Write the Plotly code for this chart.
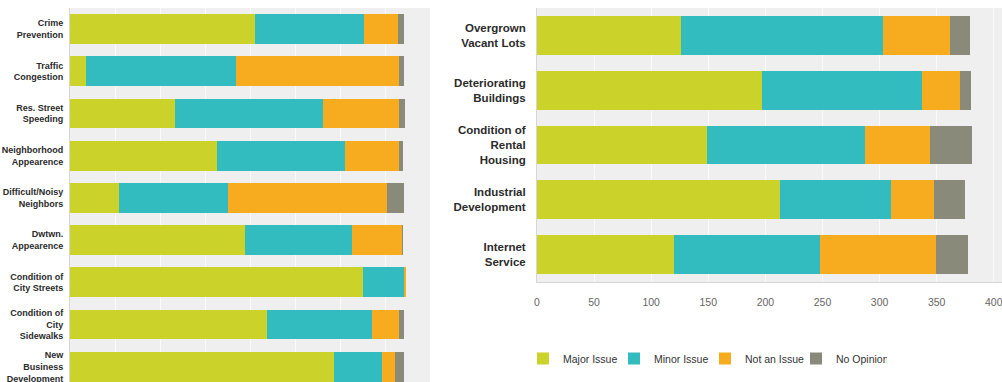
import plotly.graph_objects as go

# ---------------- data ----------------
series_names = ["Major Issue", "Minor Issue", "Not an Issue", "No Opinion"]
series_colors = ["#cbd32a", "#33bcbf", "#f6ac1e", "#8a8a7a"]

left_categories = [
    "Crime<br>Prevention",
    "Traffic<br>Congestion",
    "Res. Street<br>Speeding",
    "Neighborhood<br>Appearence",
    "Difficult/Noisy<br>Neighbors",
    "Dwtwn.<br>Appearence",
    "Condition of<br>City Streets",
    "Condition of<br>City<br>Sidewalks",
    "New<br>Business<br>Development",
]
left_major = [205, 18, 117, 163, 54, 194, 326, 219, 293]
left_minor = [122, 166, 164, 143, 122, 119, 46, 117, 54]
left_not = [37, 182, 85, 60, 176, 56, 1, 30, 14]
left_noop = [7, 5, 6, 4, 19, 1, 0, 5, 10]

right_categories = [
    "Overgrown<br>Vacant Lots",
    "Deteriorating<br>Buildings",
    "Condition of<br>Rental<br>Housing",
    "Industrial<br>Development",
    "Internet<br>Service",
]
right_major = [126, 197, 149, 213, 120]
right_minor = [177, 140, 138, 97, 128]
right_not = [59, 33, 57, 38, 101]
right_noop = [17, 10, 37, 27, 28]

x_ticks = [0, 50, 100, 150, 200, 250, 300, 350, 400]

left_values = [left_major, left_minor, left_not, left_noop]
right_values = [right_major, right_minor, right_not, right_noop]

# ---------------- figure ----------------
W, H = 1002, 382
FONT = "Liberation Sans, Arial, Helvetica, sans-serif"

fig = go.Figure()
for name, color, lv, rv in zip(series_names, series_colors, left_values, right_values):
    fig.add_trace(go.Bar(
        y=left_categories, x=lv, orientation="h", name=name,
        marker=dict(color=color, line=dict(width=0)),
        xaxis="x", yaxis="y", showlegend=False, legendgroup=name,
        hoverinfo="x+name",
    ))
    fig.add_trace(go.Bar(
        y=right_categories, x=rv, orientation="h", name=name,
        marker=dict(color=color, line=dict(width=0)),
        xaxis="x2", yaxis="y2", showlegend=True, legendgroup=name,
        hoverinfo="x+name",
    ))

plot_top = 8
plot_h = H - plot_top
left_slot = 42.2
left_bottom_idx = -0.5 + plot_h / left_slot
right_bottom_px = 282
right_dom_bottom = (H - right_bottom_px) / plot_h

grid_col = "#fafafa"
bg_col = "#efefef"
line_col = "#d6d6d6"

fig.update_layout(
    width=W, height=H,
    margin=dict(l=0, r=0, t=plot_top, b=0, pad=0, autoexpand=False),
    paper_bgcolor="white",
    plot_bgcolor=bg_col,
    barmode="stack",
    bargap=0.29,
    font=dict(family=FONT, color="#333333"),
    xaxis=dict(
        domain=[70 / W, 430 / W], range=[0, 400], anchor="y",
        tickvals=x_ticks, showticklabels=False, ticks="",
        showgrid=True, gridcolor=grid_col, gridwidth=1,
        zeroline=False, showline=False, fixedrange=True, automargin=False,
    ),
    yaxis=dict(
        domain=[0, 1], anchor="x", type="category",
        categoryorder="array", categoryarray=left_categories,
        range=[left_bottom_idx, -0.5],
        showgrid=False, zeroline=False,
        showline=True, linecolor=line_col, linewidth=1,
        ticks="", ticklabelstandoff=4, automargin=False,
        tickfont=dict(family=FONT, size=9, color="#2b2b2b", weight="bold"),
        fixedrange=True,
    ),
    xaxis2=dict(
        domain=[537 / W, 1.0], range=[0, (W - 537) / 1.142], anchor="y2",
        tickvals=x_ticks, ticktext=[str(v) for v in x_ticks],
        ticks="", ticklabelstandoff=10, automargin=False,
        ticklabeloverflow="allow",
        tickfont=dict(family=FONT, size=10.5, color="#666666"),
        showgrid=True, gridcolor=grid_col, gridwidth=1,
        zeroline=False, showline=True, linecolor=line_col, linewidth=1,
        fixedrange=True,
    ),
    yaxis2=dict(
        domain=[right_dom_bottom, 1], anchor="x2", type="category",
        categoryorder="array", categoryarray=right_categories,
        autorange="reversed",
        showgrid=False, zeroline=False,
        showline=True, linecolor=line_col, linewidth=1,
        ticks="", ticklabelstandoff=8, automargin=False,
        tickfont=dict(family=FONT, size=11.5, color="#2b2b2b", weight="bold"),
        fixedrange=True,
    ),
    legend=dict(
        orientation="h",
        x=523 / W, xanchor="left",
        y=(H - 344) / plot_h, yanchor="top",
        font=dict(family=FONT, size=10.5, color="#333333"),
        bgcolor="rgba(0,0,0,0)",
        itemclick=False, itemdoubleclick=False,
        traceorder="normal",
        itemwidth=30,
        entrywidth=46, entrywidthmode="pixels",
    ),
    showlegend=True,
)

fig.write_html(
    "out.html",
    config={"displayModeBar": False},
    post_script="document.body.style.margin='0';document.body.style.padding='0';document.body.style.overflow='hidden';",
)
